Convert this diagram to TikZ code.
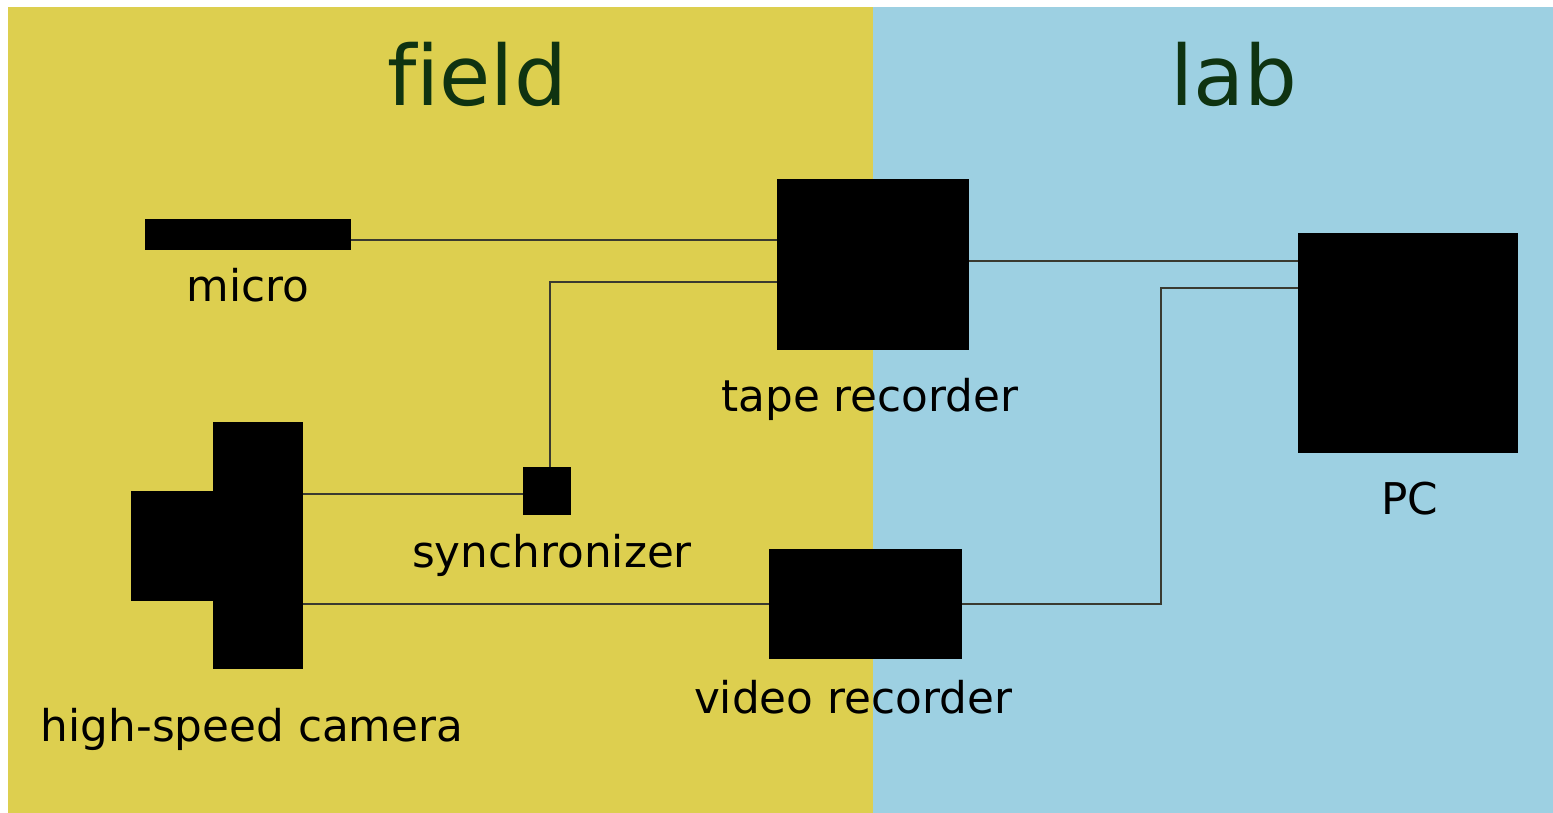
\documentclass[tikz,border=0pt]{standalone}
\usepackage{fontspec}
\setmainfont{DejaVu Sans}
\usetikzlibrary{fit,calc}
\definecolor{fieldyellow}{HTML}{DDCF4F}
\definecolor{labblue}{HTML}{9DD0E2}
\definecolor{titlegreen}{HTML}{0F3311}
\definecolor{wire}{HTML}{3A3A30}
\begin{document}
\begin{tikzpicture}[x=0.75pt,y=-0.75pt,
  blk/.style={fill=black,draw=none,inner sep=0pt,outer sep=0pt},
  lbl/.style={font=\fontsize{32.8}{36}\selectfont,text=black,inner sep=0pt,anchor=base},
  ttl/.style={font=\fontsize{62.5}{70}\selectfont,text=titlegreen,inner sep=0pt,anchor=base},
  wirestyle/.style={draw=wire,line width=1.3pt}]
\useasboundingbox (0,0) rectangle (1553,813);
\fill[white] (0,0) rectangle (1553,813);
\fill[fieldyellow] (8,7) rectangle (873,813);
\fill[labblue] (873,7) rectangle (1553,813);
\node[ttl] (tfield) at (477,106) {f\kern0pt ield};
\node[ttl] (tlab) at (1234,106) {lab};
% devices
\node[blk,fit={(145,219) (351,250)}] (micro) {};
\node[blk,fit={(777,179) (969,350)}] (tape) {};
\node[blk,fit={(1298,233) (1518,453)}] (pc) {};
\node[blk,fit={(523,467) (571,515)}] (sync) {};
\node[blk,fit={(131,491) (214,601)}] (lens) {};
\node[blk,fit={(213,422) (303,669)}] (cam) {};
\node[blk,fit={(769,549) (962,659)}] (video) {};
% labels
\node[lbl] (lmicro) at (248,301) {micro};
\node[lbl] (ltape) at (870,411) {tape recorder};
\node[lbl] (lpc) at (1410,514) {PC};
\node[lbl] (lsync) at (552,567) {synchronizer};
\node[lbl] (lcam) at (252,741) {high-speed camera};
\node[lbl] (lvideo) at (853,713) {video recorder};
% wires
\draw[wirestyle] (micro.east |- 0,240) -- (tape.west |- 0,240);
\draw[wirestyle] (tape.west |- 0,282) -| (sync.north -| 550,0);
\draw[wirestyle] (cam.east |- 0,494) -- (sync.west |- 0,494);
\draw[wirestyle] (cam.east |- 0,604) -- (video.west |- 0,604);
\draw[wirestyle] (video.east |- 0,604) -- (1161,604) |- (pc.west |- 0,288);
\draw[wirestyle] (tape.east |- 0,261) -- (pc.west |- 0,261);
\end{tikzpicture}
\end{document}
